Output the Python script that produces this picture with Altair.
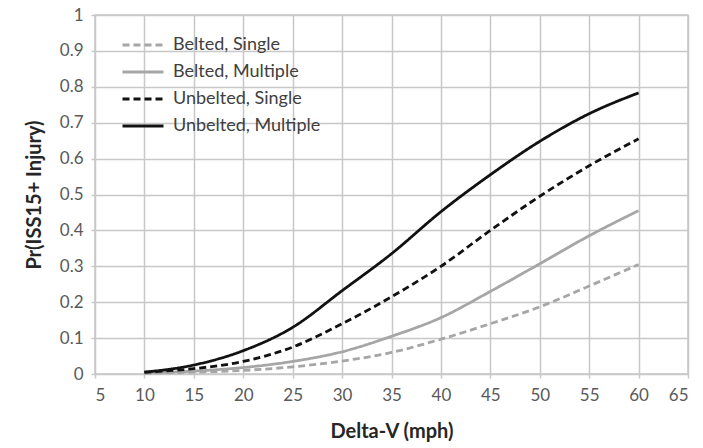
import altair as alt
import pandas as pd

# Delta-V values (mph) at which each curve is sampled
delta_v = [10, 15, 20, 25, 30, 35, 40, 45, 50, 55, 60]

belted_single = [0.002, 0.005, 0.010, 0.020, 0.036, 0.060, 0.097, 0.140, 0.187, 0.245, 0.305]
belted_multiple = [0.003, 0.008, 0.018, 0.035, 0.062, 0.105, 0.157, 0.230, 0.307, 0.385, 0.455]
unbelted_single = [0.005, 0.015, 0.035, 0.075, 0.140, 0.215, 0.300, 0.400, 0.495, 0.580, 0.655]
unbelted_multiple = [0.005, 0.025, 0.065, 0.130, 0.232, 0.335, 0.452, 0.555, 0.648, 0.725, 0.783]

series_names = ["Belted, Single", "Belted, Multiple", "Unbelted, Single", "Unbelted, Multiple"]
series_values = [belted_single, belted_multiple, unbelted_single, unbelted_multiple]
series_colors = ["#a6a6a6", "#a6a6a6", "#111111", "#111111"]
series_dashes = [[7, 4], [1, 0], [7, 4], [1, 0]]

x_ticks = list(range(5, 70, 5))
y_ticks = [round(i * 0.1, 1) for i in range(11)]

rows = []
for name, vals in zip(series_names, series_values):
    for x, y in zip(delta_v, vals):
        rows.append({"series": name, "dv": x, "p": y})
df = pd.DataFrame(rows)

FONT = "Lato"

chart = (
    alt.Chart(df)
    .mark_line(strokeWidth=2.8, interpolate="monotone")
    .encode(
        x=alt.X(
            "dv:Q",
            scale=alt.Scale(domain=[5, 65], nice=False, zero=False),
            axis=alt.Axis(
                values=x_ticks,
                title="Delta-V (mph)",
                titlePadding=18,
                labelPadding=9,
            ),
        ),
        y=alt.Y(
            "p:Q",
            scale=alt.Scale(domain=[0, 1], nice=False),
            axis=alt.Axis(
                values=y_ticks,
                title="Pr(ISS15+ Injury)",
                titlePadding=15,
                labelPadding=8,
                labelExpr="datum.value == 0 ? '0' : datum.value == 1 ? '1' : format(datum.value, '.1f')",
            ),
        ),
        color=alt.Color(
            "series:N",
            scale=alt.Scale(domain=series_names, range=series_colors),
            legend=alt.Legend(
                title=None,
                orient="none",
                legendX=36,
                legendY=18,
                # wide horizontal stroke: twice as long as the nominal symbol box
                symbolType="M-2,0L2,0",
                symbolSize=420,
                symbolStrokeWidth=2.8,
                labelFontSize=18,
                labelColor="#404040",
                labelFont=FONT,
                rowPadding=6,
                labelOffset=18,
            ),
        ),
        strokeDash=alt.StrokeDash(
            "series:N",
            scale=alt.Scale(domain=series_names, range=series_dashes),
            legend=None,
        ),
        detail="series:N",
    )
    .properties(
        width=593,
        height=359,
        autosize=alt.AutoSizeParams(type="none"),
        padding={"left": 95, "top": 15, "right": 15, "bottom": 74},
    )
    .configure_view(stroke="#c8c8c8", strokeWidth=1.5)
    .configure_axis(
        grid=True,
        gridColor="#c8c8c8",
        gridWidth=1.5,
        domain=False,
        tickColor="#c8c8c8",
        tickWidth=1.5,
        tickSize=4,
        labelFont=FONT,
        labelFontSize=17,
        labelColor="#595959",
        titleFont=FONT,
        titleFontSize=20,
        titleFontWeight="bold",
        titleColor="#262626",
    )
)

chart.save("out.html", embed_options={"renderer": "svg", "actions": False})
